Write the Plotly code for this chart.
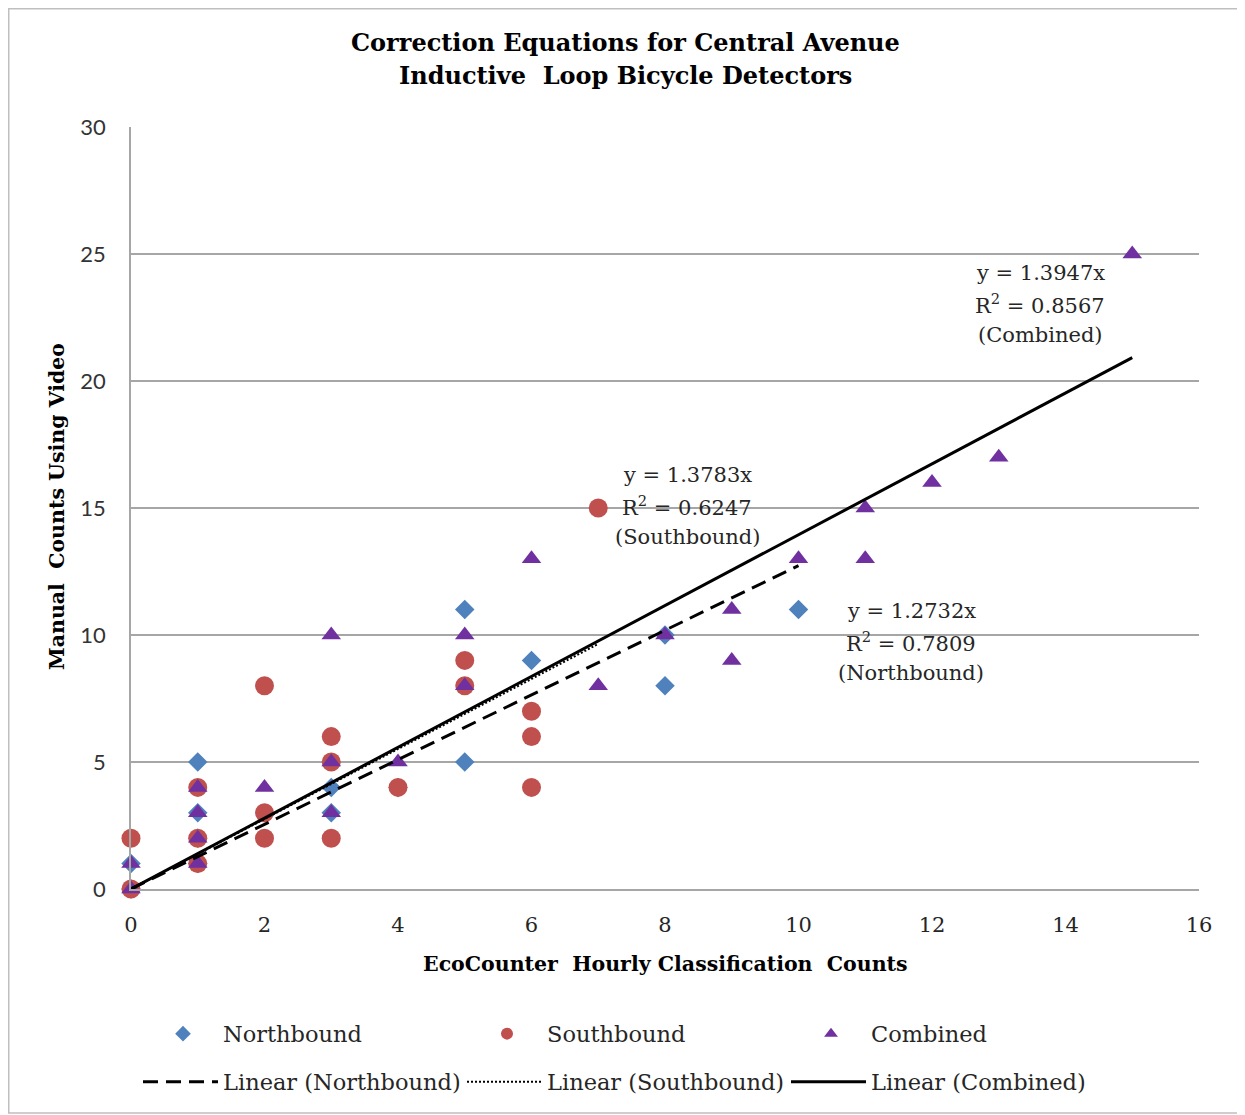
import plotly.graph_objects as go

# ---------------- data ----------------
nb_x = [0, 0, 1, 1, 1, 1, 3, 3, 4, 5, 5, 6, 8, 8, 10]
nb_y = [0, 1, 1, 2, 3, 5, 3, 4, 4, 5, 11, 9, 8, 10, 11]

sb_x = [0, 0, 1, 1, 1, 2, 2, 2, 3, 3, 3, 4, 5, 5, 6, 6, 6, 7]
sb_y = [0, 2, 1, 2, 4, 2, 3, 8, 2, 5, 6, 4, 8, 9, 4, 6, 7, 15]

cb_x = [0, 0, 1, 1, 1, 1, 2, 3, 3, 3, 4, 5, 5, 6, 7, 8, 9, 9, 10, 11, 11, 12, 13, 15]
cb_y = [0, 1, 1, 2, 3, 4, 4, 3, 5, 10, 5, 8, 10, 13, 8, 10, 9, 11, 13, 13, 15, 16, 17, 25]

series_names = ["Northbound", "Southbound", "Combined"]
slopes = [1.2732, 1.3783, 1.3947]
r2_values = [0.7809, 0.6247, 0.8567]

x_ticks = [0, 2, 4, 6, 8, 10, 12, 14, 16]
y_ticks = [0, 5, 10, 15, 20, 25, 30]

# ---------------- layout constants ----------------
# the page body has an 8px margin, so the figure is shrunk by 8px
OFF = 8
W, H = 1245 - OFF, 1115 - OFF
PL, PR, PT, PB = 131, 1199, 127, 889          # plot area in page pixels
L, T = PL - OFF, PT - OFF
R, B = W + OFF - PR, H + OFF - PB
PW, PH = PR - PL, PB - PT


def px(xp):
    return (xp - PL) / PW


def py(yp):
    return (PB - yp) / PH


SERIF = "DejaVu Serif"
TXT = "#262626"

fig = go.Figure()

colors = ["#4f81bd", "#c0504d", "#7030a0"]
symbols = ["diamond", "circle", "triangle-up"]
sizes = [15, 19, 17]
xs = [nb_x, sb_x, cb_x]
ys = [nb_y, sb_y, cb_y]

for name, x, y, c, s, sz in zip(series_names, xs, ys, colors, symbols, sizes):
    fig.add_trace(go.Scatter(
        x=x, y=y, mode="markers", name=name, legend="legend",
        marker=dict(color=c, symbol=s, size=sz, line=dict(width=0)),
        cliponaxis=False,
    ))

dashes = ["15px,8px", "2px,2px", "solid"]
widths = [3, 2, 3]
for name, x, m, d, w in zip(series_names, xs, slopes, dashes, widths):
    xmax = max(x)
    fig.add_trace(go.Scatter(
        x=[0, xmax], y=[0, m * xmax], mode="lines",
        name=f"Linear ({name})", legend="legend2",
        line=dict(color="black", width=w, dash=d),
        cliponaxis=False,
    ))

LEGFONT = dict(family=SERIF, size=22.5, color=TXT)
fig.update_layout(
    width=W, height=H,
    margin=dict(l=L, r=R, t=T, b=B, pad=0),
    paper_bgcolor="white", plot_bgcolor="white",
    font=dict(family=SERIF, size=21, color=TXT),
    showlegend=True,
    legend=dict(
        orientation="h", x=px(143), xanchor="left", y=py(1034), yanchor="middle",
        itemwidth=70, entrywidth=239, entrywidthmode="pixels", itemsizing="constant",
        font=LEGFONT, bgcolor="rgba(0,0,0,0)", itemclick=False,
    ),
    legend2=dict(
        orientation="h", x=px(138), xanchor="left", y=py(1082), yanchor="middle",
        itemwidth=75, entrywidth=234, entrywidthmode="pixels",
        font=LEGFONT, bgcolor="rgba(0,0,0,0)", itemclick=False,
    ),
    xaxis=dict(
        range=[0, 16], tickvals=x_ticks, ticktext=[str(v) for v in x_ticks],
        showgrid=False, zeroline=False, showline=True, linecolor="#a6a6a6", linewidth=1.5,
        ticks="", ticklabelstandoff=16,
        tickfont=dict(family=SERIF, size=21, color=TXT),
    ),
    yaxis=dict(
        range=[0, 30], tickvals=y_ticks, ticktext=[str(v) for v in y_ticks],
        showgrid=True, gridcolor="#a6a6a6", gridwidth=1.5,
        zeroline=False, showline=True, linecolor="#a6a6a6", linewidth=1.5,
        ticks="", ticklabelstandoff=19,
        tickfont=dict(family="Lato", size=22, color="#333333"),
    ),
)

# titles
fig.add_annotation(text="<b>Correction Equations for Central Avenue</b>", xref="paper", yref="paper",
                   x=px(625), y=py(42), xanchor="center", yanchor="middle", showarrow=False,
                   font=dict(family=SERIF, size=24, color="black"))
fig.add_annotation(text="<b>Inductive  Loop Bicycle Detectors</b>", xref="paper", yref="paper",
                   x=px(625), y=py(76), xanchor="center", yanchor="middle", showarrow=False,
                   font=dict(family=SERIF, size=24, color="black"))
fig.add_annotation(text="<b>EcoCounter  Hourly Classification  Counts</b>", xref="paper", yref="paper",
                   x=px(665), y=py(964), xanchor="center", yanchor="middle", showarrow=False,
                   font=dict(family=SERIF, size=20.5, color="black"))
fig.add_annotation(text="<b>Manual  Counts Using Video</b>", xref="paper", yref="paper",
                   x=px(57), y=py(507), xanchor="center", yanchor="middle", showarrow=False,
                   textangle=-90, font=dict(family=SERIF, size=20.5, color="black"))

# equation labels (three lines each, 31px apart)
eq_pos = [(911, 642), (687, 506), (1040, 304)]
for name, m, r2, (cx, cy) in zip(series_names, slopes, r2_values, eq_pos):
    lines = [f"y = {m:.4f}x", f"R<sup>2</sup> = {r2:.4f}", f"({name})"]
    for i, line in enumerate(lines):
        fig.add_annotation(
            text=line, xref="paper", yref="paper",
            x=px(cx), y=py(cy + (i - 1) * 31), xanchor="center", yanchor="middle",
            align="center", showarrow=False, font=dict(family=SERIF, size=21, color=TXT),
        )

# outer border
fig.add_shape(type="rect", xref="paper", yref="paper",
              x0=px(OFF + 0.75), x1=px(1243), y0=py(1113), y1=py(OFF + 0.75),
              line=dict(color="#bfbfbf", width=1.5), fillcolor="rgba(0,0,0,0)", layer="below")

fig.write_html("out.html")
